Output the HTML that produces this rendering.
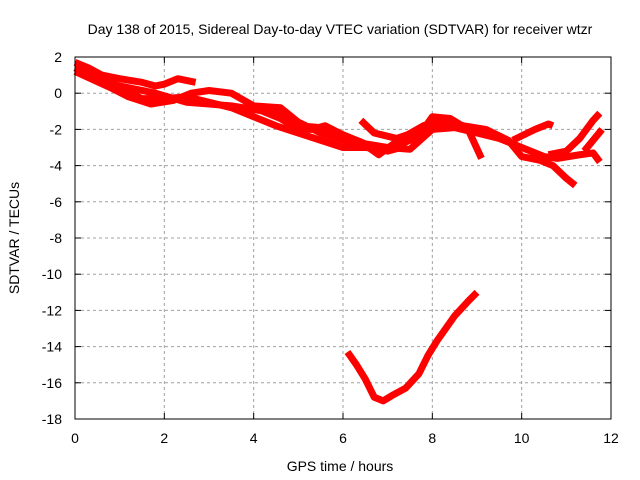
<!DOCTYPE html>
<html><head><meta charset="utf-8"><style>
body{margin:0;background:#fff}
svg{display:block;font-family:"Liberation Sans",sans-serif;font-size:14px}
</style></head><body>
<svg id="c" width="640" height="480" xmlns="http://www.w3.org/2000/svg">
<text x="340" y="34" text-anchor="middle">Day 138 of 2015, Sidereal Day-to-day VTEC variation (SDTVAR) for receiver wtzr</text>
<text x="340" y="471" text-anchor="middle">GPS time / hours</text>
<text transform="translate(19,238) rotate(-90)" text-anchor="middle">SDTVAR / TECUs</text>
<g id="grid"></g><g id="marks"></g>
<rect x="75" y="57" width="536" height="362" fill="none" stroke="#000" stroke-width="1"/>
</svg>
<script>
const xTicks=[0,2,4,6,8,10,12];
const yTicks=[2,0,-2,-4,-6,-8,-10,-12,-14,-16,-18];
const s1=[[0,1.7],[0.3,1.4],[0.6,1.0],[1,0.8],[1.5,0.6],[1.8,0.4],[2,0.5],[2.3,0.8],[2.7,0.6]];
const s2=[[0,1.4],[0.6,0.6],[1,0.3],[1.5,-0.3],[2,-0.3],[2.5,-0.2],[3,-0.5],[3.5,-0.8],[4,-1.3],[4.5,-1.8],[5,-2.2],[5.5,-2.6],[6,-3.0],[6.5,-3.0],[7,-3.1],[7.5,-2.6],[8,-2.0],[8.5,-1.7]];
const s3=[[0,1.2],[0.8,0.3],[1.2,-0.2],[1.7,-0.6],[2.2,-0.4],[2.6,0],[3,0.15],[3.5,0],[4,-0.7],[4.6,-0.8],[5,-1.6],[5.5,-2.2],[6,-2.6],[6.5,-2.9],[7,-3.2],[7.3,-3.0]];
const s4=[[0.2,1.0],[1,0.4],[1.8,0],[2.5,-0.5],[3,-0.6],[3.5,-0.7],[4,-0.9],[4.5,-1.1],[5,-1.8],[5.5,-1.9],[6,-2.3],[6.5,-2.8],[7,-3.0],[7.5,-3.1],[8,-2.0],[8.5,-1.9],[9,-2.2],[9.5,-2.5],[10,-3.0],[10.5,-3.5],[10.8,-3.6],[11.3,-3.4],[11.6,-3.3],[11.75,-3.8]];
const s5=[[4.2,-1.0],[4.6,-1.4],[5,-2.0],[5.3,-2.0],[5.6,-1.8],[6,-2.3],[6.4,-2.7],[6.8,-3.4],[7.3,-2.5],[7.8,-1.8],[8.2,-1.5],[8.7,-1.8],[9.2,-2.0],[9.7,-2.6],[10,-3.5],[10.4,-3.7],[10.7,-4.0],[11,-4.7],[11.2,-5.1]];
const s6=[[6.4,-1.5],[6.7,-2.2],[7.2,-2.5],[7.8,-2.0],[8,-1.3],[8.4,-1.4],[8.8,-2.0],[9.1,-3.6]];
const s7=[[9.8,-2.6],[10.3,-2.0],[10.6,-1.7],[10.7,-1.8]];
const s8=[[10.6,-3.4],[11,-3.2],[11.3,-2.5],[11.6,-1.5],[11.75,-1.1]];
const s9=[[11.4,-3.2],[11.6,-2.6],[11.8,-2.0]];
const s10=[[6.1,-14.3],[6.3,-15],[6.5,-15.8],[6.7,-16.8],[6.9,-17],[7.1,-16.7],[7.4,-16.3],[7.7,-15.5],[7.9,-14.5],[8.1,-13.7],[8.3,-13],[8.5,-12.3],[8.8,-11.5],[9.0,-11.0]];
const series=[s1,s2,s3,s4,s5,s6,s7,s8,s9,s10];
const X=v=>75+v*536/12, Y=v=>57+(2-v)*362/20;
const NS="http://www.w3.org/2000/svg";
const g=document.getElementById('grid'), m=document.getElementById('marks');
function mk(t,a,p){const e=document.createElementNS(NS,t);for(const k in a)e.setAttribute(k,a[k]);p.appendChild(e);return e;}
xTicks.forEach(t=>{
  if(t>0&&t<12){const l=mk('line',{x1:X(t),x2:X(t),y1:57,y2:419,stroke:'#a0a0a0','stroke-dasharray':'3,3'},g);
  
  }
  mk('line',{x1:X(t),x2:X(t),y1:419,y2:413,stroke:'#000'},g);
  mk('line',{x1:X(t),x2:X(t),y1:57,y2:63,stroke:'#000'},g);
  const tx=mk('text',{x:X(t),y:443,'text-anchor':'middle'},g);tx.textContent=t;
  
  
});
yTicks.forEach(t=>{
  if(t<2&&t>-18){const l=mk('line',{x1:75,x2:611,y1:Y(t),y2:Y(t),stroke:'#a0a0a0','stroke-dasharray':'3,3'},g);
  
  }
  mk('line',{x1:75,x2:81,y1:Y(t),y2:Y(t),stroke:'#000'},g);
  mk('line',{x1:605,x2:611,y1:Y(t),y2:Y(t),stroke:'#000'},g);
  const tx=mk('text',{x:62,y:Y(t)+5,'text-anchor':'end'},g);tx.textContent=t;
  
  
});
series.forEach((s,i)=>{
  const p=mk('polyline',{points:s.map(d=>X(d[0])+','+Y(d[1])).join(' '),fill:'none',stroke:'#ff0000','stroke-width':7,'stroke-linejoin':'round'},m);
  
  
});
</script>
</body></html>
